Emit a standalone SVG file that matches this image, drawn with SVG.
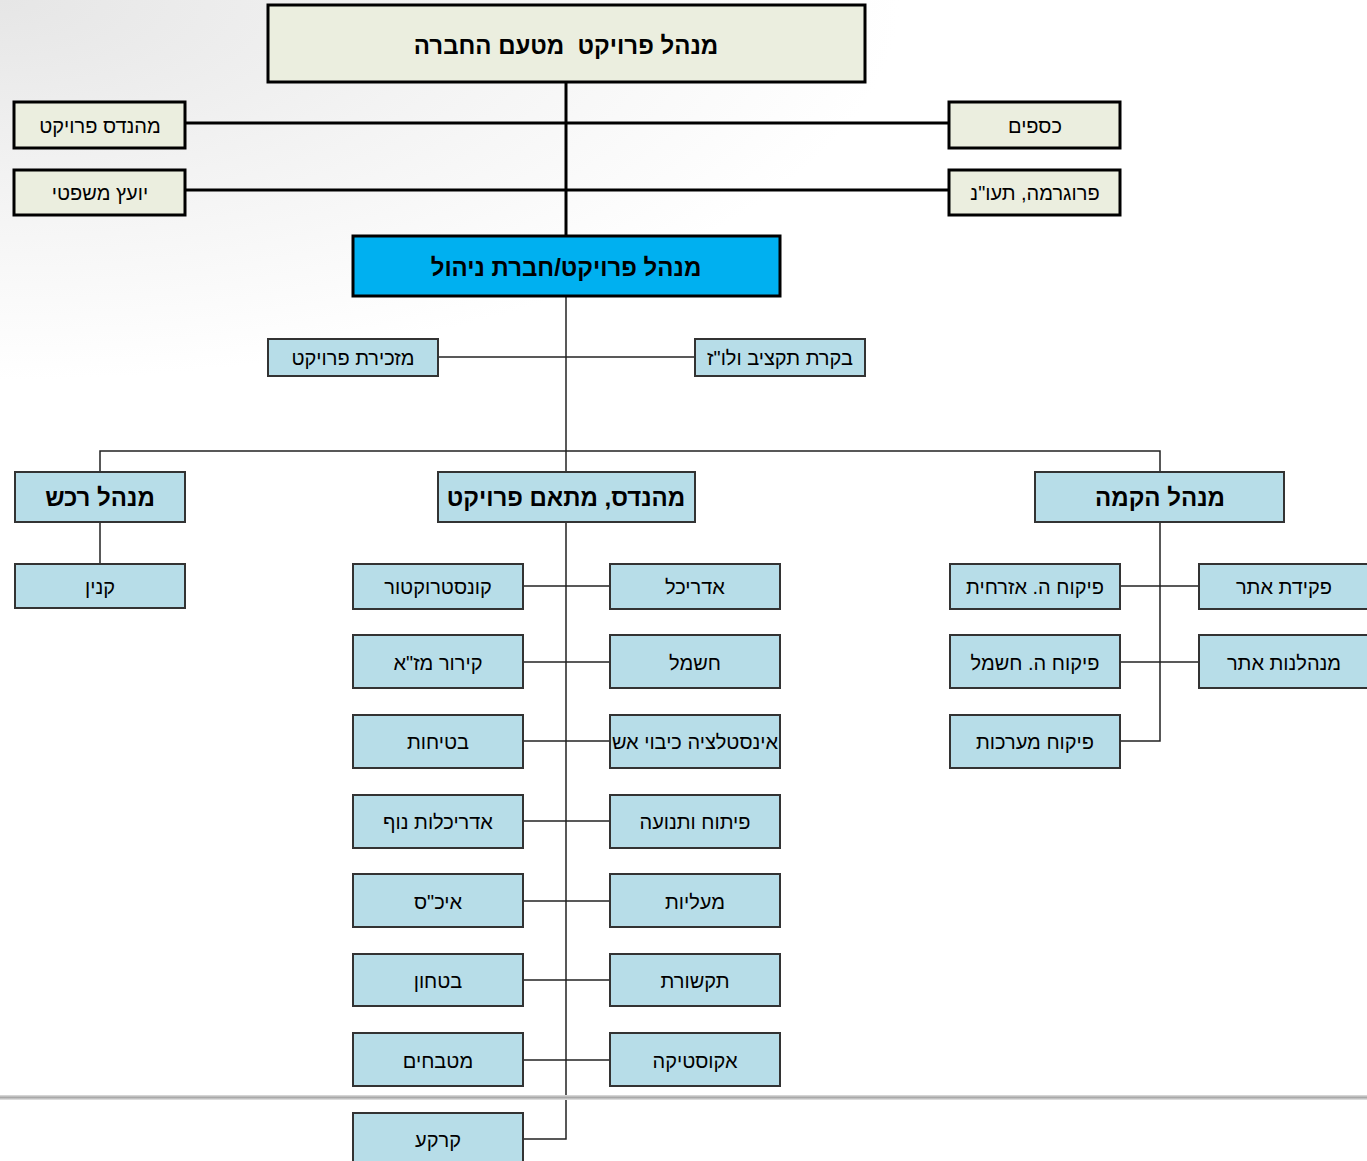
<svg xmlns="http://www.w3.org/2000/svg" width="1367" height="1161" viewBox="0 0 1367 1161">
<defs>
<radialGradient id="bg" cx="0" cy="0" r="1" gradientUnits="objectBoundingBox">
<stop offset="0" stop-color="#e6e6e6"/>
<stop offset="0.5" stop-color="#f3f3f3"/>
<stop offset="1" stop-color="#ffffff"/>
</radialGradient>
<linearGradient id="rule" x1="0" y1="0" x2="0" y2="1">
<stop offset="0" stop-color="#e0e0e0"/>
<stop offset="0.5" stop-color="#a8a8a8"/>
<stop offset="1" stop-color="#e8e8e8"/>
</linearGradient>
<style>
text{font-family:"Liberation Sans","DejaVu Sans",Arial,sans-serif;text-anchor:middle;dominant-baseline:central;fill:#000;direction:rtl}
.top rect{fill:#EBEEDF;stroke:#000;stroke-width:3}
.top text{font-size:20px}
.blue rect{fill:#B7DDE8;stroke:#333;stroke-width:2}
.blue text{font-size:20px}
.hd text{font-size:24px;font-weight:bold}
.thick{stroke:#000;stroke-width:3;fill:none}
.thin{stroke:#222;stroke-width:1.5;fill:none}
</style>
</defs>
<rect width="1367" height="1161" fill="#fff"/>
<rect x="0" y="0" width="900" height="380" fill="url(#bg)"/>

<g id="connectors">
<line class="thick" x1="566" y1="82" x2="566" y2="236"/>
<line class="thick" x1="185" y1="123" x2="949" y2="123"/>
<line class="thick" x1="185" y1="190" x2="949" y2="190"/>
<line class="thin" x1="566" y1="296" x2="566" y2="472"/>
<line class="thin" x1="438" y1="357" x2="695" y2="357"/>
<polyline class="thin" points="100,472 100,451 1160,451 1160,472"/>
<line class="thin" x1="100" y1="522" x2="100" y2="564"/>
<polyline class="thin" points="566,522 566,1139 523,1139"/>
<line class="thin" x1="523" y1="586" x2="610" y2="586"/>
<line class="thin" x1="523" y1="662" x2="610" y2="662"/>
<line class="thin" x1="523" y1="741" x2="610" y2="741"/>
<line class="thin" x1="523" y1="821" x2="610" y2="821"/>
<line class="thin" x1="523" y1="901" x2="610" y2="901"/>
<line class="thin" x1="523" y1="980" x2="610" y2="980"/>
<line class="thin" x1="523" y1="1060" x2="610" y2="1060"/>
<polyline class="thin" points="1160,522 1160,741 1120,741"/>
<line class="thin" x1="1120" y1="586" x2="1199" y2="586"/>
<line class="thin" x1="1120" y1="662" x2="1199" y2="662"/>
</g>

<g id="n-top" class="top"><rect x="268" y="5" width="597" height="77"/><text x="566" y="45" xml:space="preserve" style="font-size:24px;font-weight:bold;white-space:pre">מנהל פרויקט  מטעם החברה</text></g>
<g id="n-eng" class="top"><rect x="14" y="102" width="171" height="46"/><text x="100" y="126">מהנדס פרויקט</text></g>
<g id="n-legal" class="top"><rect x="14" y="170" width="171" height="45"/><text x="100" y="193">יועץ משפטי</text></g>
<g id="n-money" class="top"><rect x="949" y="102" width="171" height="46"/><text x="1035" y="126">כספים</text></g>
<g id="n-prog" class="top"><rect x="949" y="170" width="171" height="45"/><text x="1035" y="193">פרוגרמה, תעו"נ</text></g>

<g id="n-pm"><rect x="353" y="236" width="427" height="60" fill="#00B0F0" stroke="#000" stroke-width="3"/><text x="566" y="267" style="font-size:24px;font-weight:bold">מנהל פרויקט/חברת ניהול</text></g>

<g id="n-sec" class="blue"><rect x="268" y="339" width="170" height="37"/><text x="353" y="358">מזכירת פרויקט</text></g>
<g id="n-budget" class="blue"><rect x="695" y="339" width="170" height="37"/><text x="780" y="358">בקרת תקציב ולו"ז</text></g>

<g id="n-purch" class="blue hd"><rect x="15" y="472" width="170" height="50"/><text x="100" y="497">מנהל רכש</text></g>
<g id="n-coord" class="blue hd"><rect x="438" y="472" width="257" height="50"/><text x="566" y="497">מהנדס, מתאם פרויקט</text></g>
<g id="n-build" class="blue hd"><rect x="1035" y="472" width="249" height="50"/><text x="1160" y="497">מנהל הקמה</text></g>

<g id="n-kanin" class="blue"><rect x="15" y="564" width="170" height="44"/><text x="100" y="587">קנין</text></g>

<g id="n-const" class="blue"><rect x="353" y="564" width="170" height="45"/><text x="438" y="587">קונסטרוקטור</text></g>
<g id="n-arch" class="blue"><rect x="610" y="564" width="170" height="45"/><text x="695" y="587">אדריכל</text></g>
<g id="n-hvac" class="blue"><rect x="353" y="635" width="170" height="53"/><text x="438" y="663">קירור מז"א</text></g>
<g id="n-elec" class="blue"><rect x="610" y="635" width="170" height="53"/><text x="695" y="663">חשמל</text></g>
<g id="n-safety" class="blue"><rect x="353" y="715" width="170" height="53"/><text x="438" y="742">בטיחות</text></g>
<g id="n-plumb" class="blue"><rect x="610" y="715" width="170" height="53"/><text x="695" y="742">אינסטלציה כיבוי אש</text></g>
<g id="n-land" class="blue"><rect x="353" y="795" width="170" height="53"/><text x="438" y="822">אדריכלות נוף</text></g>
<g id="n-traffic" class="blue"><rect x="610" y="795" width="170" height="53"/><text x="695" y="822">פיתוח ותנועה</text></g>
<g id="n-env" class="blue"><rect x="353" y="874" width="170" height="53"/><text x="438" y="902">איכ"ס</text></g>
<g id="n-elev" class="blue"><rect x="610" y="874" width="170" height="53"/><text x="695" y="902">מעליות</text></g>
<g id="n-secur" class="blue"><rect x="353" y="954" width="170" height="52"/><text x="438" y="981">בטחון</text></g>
<g id="n-comm" class="blue"><rect x="610" y="954" width="170" height="52"/><text x="695" y="981">תקשורת</text></g>
<g id="n-kitchen" class="blue"><rect x="353" y="1033" width="170" height="53"/><text x="438" y="1061">מטבחים</text></g>
<g id="n-acoust" class="blue"><rect x="610" y="1033" width="170" height="53"/><text x="695" y="1061">אקוסטיקה</text></g>
<g id="n-soil" class="blue"><rect x="353" y="1113" width="170" height="53"/><text x="438" y="1140">קרקע</text></g>

<g id="n-civil" class="blue"><rect x="950" y="564" width="170" height="45"/><text x="1035" y="587">פיקוח ה. אזרחית</text></g>
<g id="n-clerk" class="blue"><rect x="1199" y="564" width="175" height="45"/><text x="1284" y="587">פקידת אתר</text></g>
<g id="n-elecsup" class="blue"><rect x="950" y="635" width="170" height="53"/><text x="1035" y="663">פיקוח ה. חשמל</text></g>
<g id="n-admin" class="blue"><rect x="1199" y="635" width="175" height="53"/><text x="1284" y="663">מנהלנות אתר</text></g>
<g id="n-sys" class="blue"><rect x="950" y="715" width="170" height="53"/><text x="1035" y="742">פיקוח מערכות</text></g>

<rect x="0" y="1095" width="1367" height="5" fill="url(#rule)"/>
</svg>
